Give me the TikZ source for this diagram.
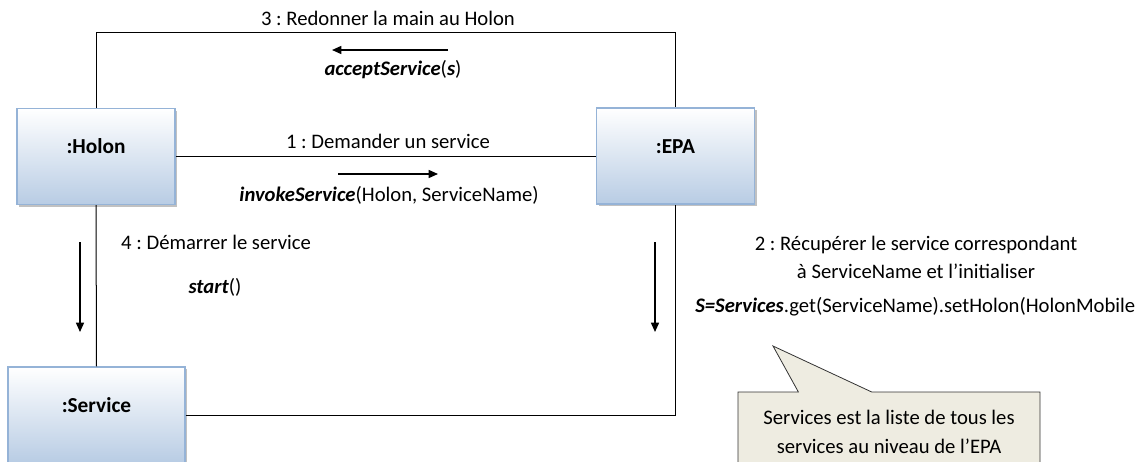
\documentclass[tikz,border=0pt]{standalone}
\usepackage{fontspec}
\setmainfont{Carlito}
\frenchspacing
\usetikzlibrary{arrows.meta, shadows, shapes.callouts}

\definecolor{boxtop}{RGB}{255,255,255}
\definecolor{boxbot}{RGB}{184,204,228}
\definecolor{boxline}{RGB}{149,179,215}
\definecolor{notefill}{RGB}{238,236,225}

\begin{document}
\begin{tikzpicture}[
  x=0.75pt, y=-0.75pt,
  obj/.style={draw=boxline, line width=1pt, top color=boxtop, bottom color=boxbot,
    minimum width=118.5pt, minimum height=72pt, text height=11pt, text depth=15pt,
    font=\fontsize{16pt}{19pt}\selectfont\bfseries,
    drop shadow={shadow xshift=1.5pt, shadow yshift=-1.5pt, fill=black!35, opacity=.7}},
  lbl/.style={font=\fontsize{15.5pt}{19pt}\selectfont, inner sep=0pt},
  note/.style={rectangle callout, draw=black!80, fill=notefill, line width=0.6pt,
    minimum width=226.5pt, minimum height=60pt, align=center,
    font=\fontsize{15.5pt}{21.75pt}\selectfont, callout pointer width=55pt},
  msg/.style={-{Triangle[length=7pt, width=6pt]}, line width=1.1pt},
  link/.style={line width=0.75pt}
]
\useasboundingbox (0,0) rectangle (1141,461);
\clip (0,0) rectangle (1141,461);

% objects
\node[obj] (holon) at (96,156.5)  {:Holon};
\node[obj] (epa)   at (675.5,156) {:EPA};
\node[obj, minimum width=132.75pt] (serv) at (96.5,415) {:Service};

% links
\draw[link] (holon.north) -- ++(0,-75) -| (epa.north);
\draw[link] (holon.east) -- (holon.east -| epa.west);
\draw[link] (holon.south) -- (serv.north);
\draw[link] (serv.east) -| (epa.south);

% messages
\node[lbl] (l3)  at (388,18)  {3 : Redonner la main au Holon};
\node[lbl] (acc) at (393,70)  {\textbf{\textit{acceptService}}(\textbf{\textit{s}})};
\node[lbl] (l1)  at (388,141) {1 : Demander un service};
\node[lbl] (inv) at (389,195) {\textbf{\textit{invokeService}}(Holon, ServiceName)};
\node[lbl] (l4)  at (216,242) {4 : Démarrer le service};
\node[lbl] (st)  at (215,287) {\textbf{\textit{start}}()};
\node[lbl, align=center, font=\fontsize{15.5pt}{21pt}\selectfont] (l2) at (916,257)
  {2 : Récupérer le service correspondant\\à ServiceName et l’initialiser};
\node[lbl, anchor=west] (get) at (695,307)
  {\textbf{\textit{S=Services}}.get(ServiceName).setHolon(HolonMobile};

\coordinate (a3s) at (448,50);  \coordinate (a3e) at (332,50);
\coordinate (a1s) at (338,174); \coordinate (a1e) at (438,174);
\coordinate (a4s) at (80,242);  \coordinate (a4e) at (80,332);
\coordinate (a2s) at (655,242); \coordinate (a2e) at (655,332);
\draw[msg] (a3s) -- (a3e);
\draw[msg] (a1s) -- (a1e);
\draw[msg] (a4s) -- (a4e);
\draw[msg] (a2s) -- (a2e);

% note
\node[note, callout absolute pointer={(773,346)}] (rem) at (889,432)
  {Services est la liste de tous les\\services au niveau de l’EPA};
\end{tikzpicture}
\end{document}
